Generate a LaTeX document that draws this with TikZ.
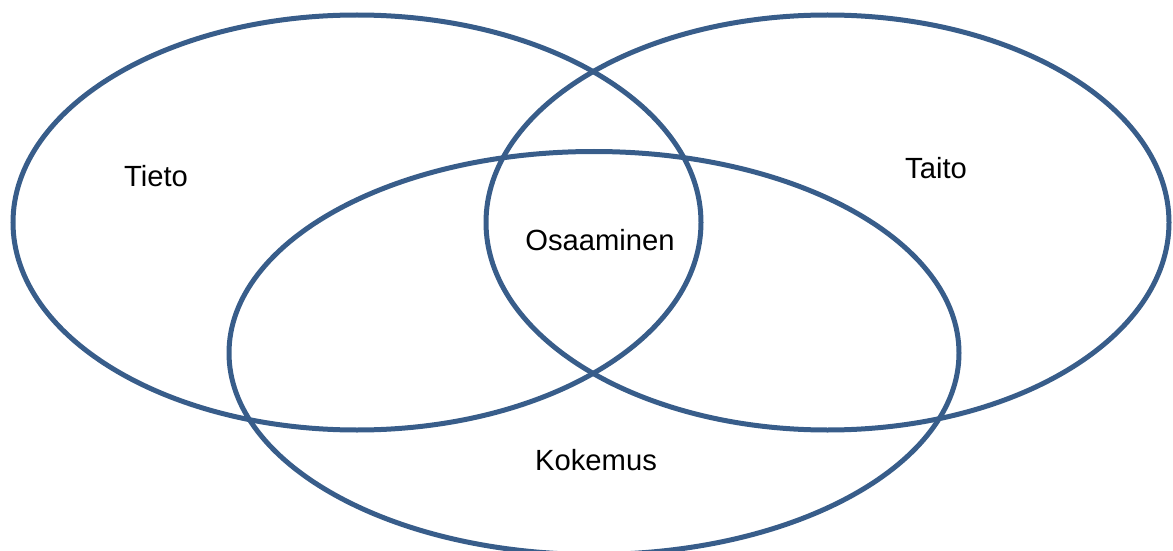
\documentclass[tikz,border=0pt]{standalone}
\usepackage{fontspec}
\setmainfont{Liberation Sans}
\usepackage{tikz}
\usetikzlibrary{positioning}
\definecolor{ringBlue}{RGB}{56,93,138}

\begin{document}
\begin{tikzpicture}[x=0.5pt,y=-0.5pt,
  ring/.style={draw=ringBlue,line width=2.5pt},
  lbl/.style={font=\fontsize{14.6}{17}\selectfont,inner sep=0pt}]
  % canvas
  \useasboundingbox (0,0) rectangle (1173,551);
  % the three sets
  \draw[ring] (357,222.5) ellipse [x radius=344,y radius=207.5];
  \draw[ring] (827.5,222.5) ellipse [x radius=341.5,y radius=207.5];
  \draw[ring] (594,353) ellipse [x radius=365,y radius=201.5];
  % labels
  \node[lbl] (tieto) at (156,176) {Tieto};
  \node[lbl] (taito) at (936,168) {Taito};
  \node[lbl] (osaaminen) at (600,240) {Osaaminen};
  \node[lbl] (kokemus) at (596,460) {Kokemus};
\end{tikzpicture}
\end{document}
